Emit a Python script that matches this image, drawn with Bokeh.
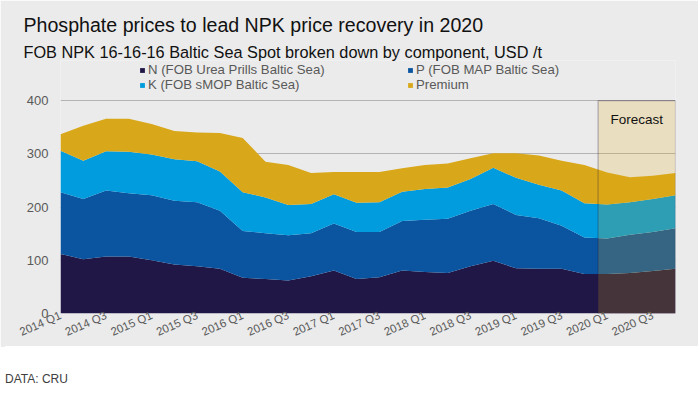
from math import pi
from bokeh.plotting import figure
from bokeh.models import (Range1d, FixedTicker, Legend, LegendItem, BoxAnnotation,
                          Label, Title, Div, ColumnDataSource)
from bokeh.layouts import column
from bokeh.embed import file_html
from bokeh.resources import INLINE

quarters = ["2014 Q1", "2014 Q2", "2014 Q3", "2014 Q4",
            "2015 Q1", "2015 Q2", "2015 Q3", "2015 Q4",
            "2016 Q1", "2016 Q2", "2016 Q3", "2016 Q4",
            "2017 Q1", "2017 Q2", "2017 Q3", "2017 Q4",
            "2018 Q1", "2018 Q2", "2018 Q3", "2018 Q4",
            "2019 Q1", "2019 Q2", "2019 Q3", "2019 Q4",
            "2020 Q1", "2020 Q2", "2020 Q3", "2020 Q4"]

n_urea = [112, 102, 107, 107, 100, 92, 89, 84, 67, 65, 62, 70, 81, 65,
          68, 81, 78, 76, 89, 99, 85, 84, 84, 74, 74, 76, 80, 84]
p_map = [116, 113, 124, 119, 122, 120, 120, 109, 88, 86, 85, 81, 88, 88,
         85, 93, 98, 102, 104, 107, 100, 95, 81, 69, 67, 72, 73, 76]
k_smop = [78, 72, 74, 78, 77, 78, 77, 74, 73, 67, 57, 55, 55, 55,
          56, 55, 58, 59, 60, 68, 70, 63, 66, 64, 64, 61, 62, 62]
premium = [31, 66, 61, 62, 57, 53, 54, 72, 102, 67, 75, 58, 42, 58,
           57, 44, 45, 45, 39, 27, 46, 55, 56, 72, 60, 47, 44, 42]

series_names = ["N (FOB Urea Prills Baltic Sea)", "P (FOB MAP Baltic Sea)",
                "K (FOB sMOP Baltic Sea)", "Premium"]
colors = ["#201747", "#0a54a0", "#009cde", "#d9a81a"]
y_ticks = [0, 100, 200, 300, 400]
forecast_start = "2020 Q1"

FONT = "Liberation Sans"
BG = "#ebebeb"

x = list(range(len(quarters)))
src = ColumnDataSource(dict(x=x, n=n_urea, p=p_map, k=k_smop, prem=premium))

# frame spans y 60..312 px; 400 sits at 100 px -> headroom for the legend
y_top = y_ticks[-1] * 252 / 212

p = figure(width=698, height=347, x_range=Range1d(0, len(quarters) - 1),
           y_range=Range1d(y_ticks[0], y_top),
           output_backend="svg", toolbar_location=None, title=None,
           min_border=0, min_border_left=60, min_border_right=23,
           min_border_bottom=34, min_border_top=60)
p.background_fill_color = BG
p.border_fill_color = BG
p.outline_line_color = None

rends = p.varea_stack(["n", "p", "k", "prem"], x="x", source=src, color=colors)

# forecast shading
fl = quarters.index(forecast_start) - 0.4
box = BoxAnnotation(left=fl, right=len(quarters) - 1, bottom=y_ticks[0], top=y_ticks[-1],
                    fill_color=(225, 170, 15), fill_alpha=0.2,
                    line_color="#201747", line_width=1.2, level="annotation")
p.add_layout(box)
p.add_layout(Label(x=(fl + len(quarters) - 1) / 2, y=y_ticks[-1], y_offset=-11,
                   text="Forecast", text_align="center", text_baseline="top",
                   text_font=FONT, text_font_size="13.5px", text_color="#111111"))

# axes
p.yaxis.ticker = FixedTicker(ticks=y_ticks)
p.yaxis.axis_line_color = None
p.yaxis.major_tick_line_color = None
p.yaxis.minor_tick_line_color = None
p.yaxis.major_tick_out = 0
p.yaxis.major_label_text_font = FONT
p.yaxis.major_label_text_font_size = "13px"
p.yaxis.major_label_text_color = "#595959"
p.yaxis.major_label_standoff = 12

p.xaxis.ticker = FixedTicker(ticks=list(range(0, len(quarters), 2)))
p.xaxis.major_label_overrides = {i: quarters[i] for i in range(0, len(quarters), 2)}
p.xaxis.major_label_orientation = 24 * pi / 180
p.xaxis.axis_line_color = None
p.xaxis.major_tick_line_color = None
p.xaxis.minor_tick_line_color = None
p.xaxis.major_tick_out = 0
p.xaxis.major_tick_in = 0
p.xaxis.minor_tick_out = 0
p.xaxis.major_label_text_font = FONT
p.xaxis.major_label_text_font_size = "11.5px"
p.xaxis.major_label_text_color = "#595959"
p.xaxis.major_label_standoff = 1

p.xgrid.grid_line_color = None
p.ygrid.grid_line_color = "#b3b3b3"
p.ygrid.grid_line_width = 1

order = [0, 2, 1, 3]  # fills column-wise -> rows: N | P, K | Premium
legend = Legend(items=[LegendItem(label=series_names[i], renderers=[rends[i]]) for i in order],
                ncols=2, location=(79, 221), padding=0, margin=0, spacing=0,
                glyph_width=6, glyph_height=6, label_height=13, label_width=259,
                label_standoff=3, label_text_font=FONT, label_text_font_size="13.2px",
                label_text_color="#595959", background_fill_alpha=0,
                border_line_color=None)
p.add_layout(legend, "center")

sub = Title(text="FOB NPK 16-16-16 Baltic Sea Spot broken down by component, USD /t",
            text_font=FONT, text_font_size="16.3px", text_font_style="normal",
            text_color="#111111", offset=-37, standoff=0, align="left")
main = Title(text="Phosphate prices to lead NPK price recovery in 2020",
             text_font=FONT, text_font_size="19.6px", text_font_style="normal",
             text_color="#111111", offset=-37, standoff=10, align="left")
spacer = Title(text=" ", text_font_size="1px", standoff=1)
p.add_layout(sub, "above")
p.add_layout(main, "above")
p.add_layout(spacer, "above")

note = Div(text="DATA: CRU", width=698, height=50,
           styles={"font-family": FONT, "font-size": "12px", "color": "#404040",
                   "padding-top": "25px", "margin-top": "-1px",
                   "background-color": "#ffffff"})

layout = column(p, note, spacing=0)
open("out.html", "w").write(file_html(layout, INLINE))
